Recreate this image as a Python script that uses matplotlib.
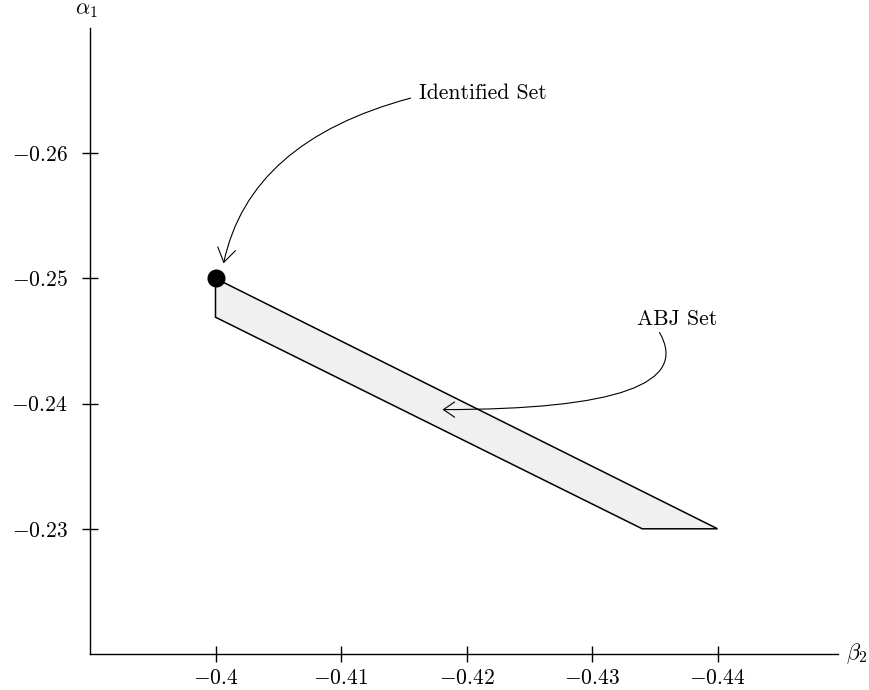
import matplotlib
matplotlib.use("Agg")
import matplotlib.pyplot as plt
from matplotlib.patches import FancyArrowPatch

plt.rcParams["font.family"] = "serif"
plt.rcParams["font.serif"] = ["cmr10"]
plt.rcParams["mathtext.fontset"] = "cm"
plt.rcParams["axes.unicode_minus"] = False

# ABJ set polygon (beta_2, alpha_1)
abj_beta2 = [-0.4, -0.44, -0.434, -0.4]
abj_alpha1 = [-0.25, -0.23, -0.23, -0.2469]

# identified set: single point
id_beta2 = [-0.4]
id_alpha1 = [-0.25]

xticks = [-0.4, -0.41, -0.42, -0.43, -0.44]
yticks = [-0.26, -0.25, -0.24, -0.23]

fig = plt.figure(figsize=(8.7, 6.9), dpi=100)
ax = fig.add_axes([90 / 870, 36 / 690, 748 / 870, 626 / 690])

ax.fill(abj_beta2, abj_alpha1, facecolor="#f0f0f0", edgecolor="black", lw=1.1, zorder=2)
ax.plot(id_beta2, id_alpha1, "o", color="black", ms=12, zorder=4)

ax.set_xlim(-0.39, -0.4496)
ax.set_ylim(-0.22, -0.27)

ax.set_xticks(xticks)
ax.set_xticklabels([f"${v:g}$" for v in xticks])
ax.set_yticks(yticks)
ax.set_yticklabels([f"${v:g}$" for v in yticks])
ax.tick_params(direction="inout", length=11, width=1.0, labelsize=15.5)
ax.tick_params(axis="x", pad=5)
ax.tick_params(axis="y", pad=10.5)

for s in ["top", "right"]:
    ax.spines[s].set_visible(False)
for s in ["left", "bottom"]:
    ax.spines[s].set_linewidth(1.0)

ax.text(1.011, 0.0, r"$\beta_2$", transform=ax.transAxes, ha="left", va="center", fontsize=16)
ax.text(-0.005, 1.029, r"$\alpha_1$", transform=ax.transAxes, ha="center", va="center", fontsize=16)

# annotations
ax.text(-0.41618, -0.26432, "Identified Set", fontsize=15.6, ha="left", va="baseline")
arr1 = FancyArrowPatch((-0.41554, -0.2644), (-0.40064, -0.2512),
                       connectionstyle="angle3,angleA=195,angleB=78",
                       arrowstyle="->,head_length=1.0,head_width=0.65",
                       mutation_scale=10, lw=0.8, color="black",
                       shrinkA=0, shrinkB=0, zorder=5)
ax.add_patch(arr1)

ax.text(-0.43355, -0.24624, "ABJ Set", fontsize=15.6, ha="left", va="baseline")
arr2 = FancyArrowPatch((-0.43538, -0.24568), (-0.41809, -0.23952),
                       connectionstyle="angle3,angleA=-60,angleB=0",
                       arrowstyle="->,head_length=0.8,head_width=0.55",
                       mutation_scale=10, lw=0.8, color="black",
                       shrinkA=0, shrinkB=0, zorder=5)
ax.add_patch(arr2)

fig.savefig("out.png", dpi=100)
